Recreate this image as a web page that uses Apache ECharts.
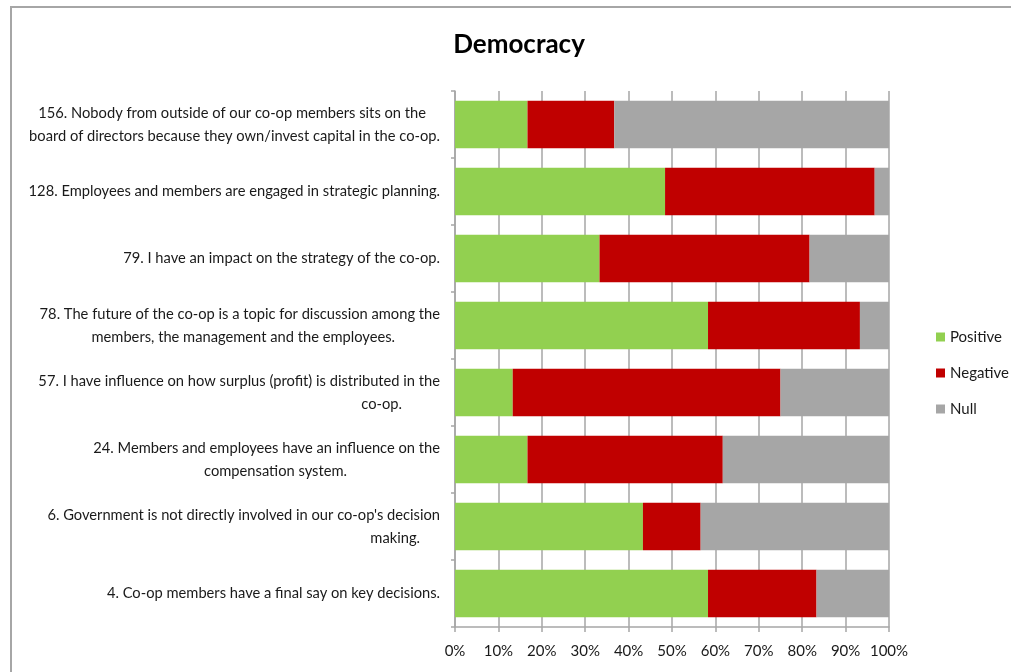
<!DOCTYPE html>
<html>
<head>
<meta charset="utf-8">
<title>Democracy</title>
<script src="https://cdn.jsdelivr.net/npm/echarts@6/dist/echarts.min.js"></script>
<style>
  html, body { margin: 0; padding: 0; background: #ffffff; }
  #chart { width: 1011px; height: 672px; }
</style>
</head>
<body>
<div id="chart"></div>
<script>
// Survey statements, listed top to bottom
const categories = [
  "156. Nobody from outside of our co-op members sits on the\nboard of directors because they own/invest capital in the co-op.",
  "128. Employees and members are engaged in strategic planning.",
  "79. I have an impact on the strategy of the co-op.",
  "78. The future of the co-op is a topic for discussion among the\nmembers, the management and the employees.",
  "57. I have influence on how surplus (profit) is distributed in the\nco-op.",
  "24. Members and employees have an influence on the\ncompensation system.",
  "6. Government is not directly involved in our co-op's decision\nmaking.",
  "4. Co-op members have a final say on key decisions."
];

// Share of answers per statement (%)
const positive = [16.7, 48.4, 33.3, 58.3, 13.3, 16.7, 43.3, 58.3];
const negative = [20.0, 48.3, 48.4, 35.0, 61.7, 45.0, 13.3, 25.0];
const nullShare = [63.3, 3.3, 18.3, 6.7, 25.0, 38.3, 43.4, 16.7];

const xTicks = [0, 10, 20, 30, 40, 50, 60, 70, 80, 90, 100];

// Right-hand inset of each wrapped label line (px)
const lineInsets = [[14, 0], [0], [0], [0, 45], [0, 38], [0, 93], [0, 20], [0]];

const FONT = "Lato, 'Liberation Sans', sans-serif";
const TEXT = '#1a1a1a';

const rich = {};
lineInsets.flat().forEach(function (p) {
  rich['p' + p] = {
    fontFamily: FONT, fontSize: 14.7, color: TEXT, lineHeight: 23,
    align: 'right', padding: [0, p, 0, 0]
  };
});

const chart = echarts.init(document.getElementById('chart'), null, { renderer: 'canvas' });

const barCommon = {
  type: 'bar',
  stack: 'total',
  barCategoryGap: '29%',
  emphasis: { disabled: true }
};

chart.setOption({
  animation: false,
  backgroundColor: '#ffffff',
  graphic: [{
    type: 'rect',
    shape: { x: 11, y: 7, width: 1100, height: 800 },
    style: { fill: 'none', stroke: '#a6a6a6', lineWidth: 2 },
    silent: true
  }],
  title: {
    text: 'Democracy',
    left: 514,
    top: 27,
    textAlign: 'center',
    textStyle: { fontFamily: FONT, fontSize: 26, fontWeight: 'bold', color: '#000' }
  },
  legend: {
    orient: 'vertical',
    left: 931,
    top: 324,
    icon: 'rect',
    itemWidth: 9,
    itemHeight: 9,
    itemGap: 20,
    textStyle: { fontFamily: FONT, fontSize: 15, color: TEXT, lineHeight: 16 },
    data: ['Positive', 'Negative', 'Null']
  },
  grid: { left: 455, right: 122, top: 91, bottom: 45, containLabel: false },
  xAxis: {
    type: 'value',
    min: 0,
    max: 100,
    interval: 10,
    axisLine: { show: true, lineStyle: { color: '#a6a6a6', width: 1.5 } },
    axisTick: { show: true, length: 5, lineStyle: { color: '#a6a6a6', width: 1.5 } },
    splitLine: { show: true, lineStyle: { color: '#a6a6a6', width: 1.5 } },
    axisLabel: {
      margin: 17,
      fontFamily: FONT, fontSize: 15, color: TEXT,
      customValues: xTicks,
      formatter: function (v) { return v + '%'; }
    }
  },
  yAxis: {
    type: 'category',
    inverse: true,
    data: categories,
    axisLine: { show: true, lineStyle: { color: '#a6a6a6', width: 1.5 } },
    axisTick: { show: true, length: 4, inside: false, lineStyle: { color: '#a6a6a6', width: 1.5 } },
    splitLine: { show: false },
    axisLabel: {
      margin: 15,
      align: 'right',
      formatter: function (value, idx) {
        const insets = lineInsets[idx] || [];
        return value.split('\n').map(function (line, i) {
          return '{p' + (insets[i] || 0) + '|' + line + '}';
        }).join('\n');
      },
      rich: rich
    }
  },
  series: [
    Object.assign({ name: 'Positive', data: positive, itemStyle: { color: '#92d050' } }, barCommon),
    Object.assign({ name: 'Negative', data: negative, itemStyle: { color: '#c00000' } }, barCommon),
    Object.assign({ name: 'Null', data: nullShare, itemStyle: { color: '#a6a6a6' } }, barCommon)
  ]
});
</script>
</body>
</html>
